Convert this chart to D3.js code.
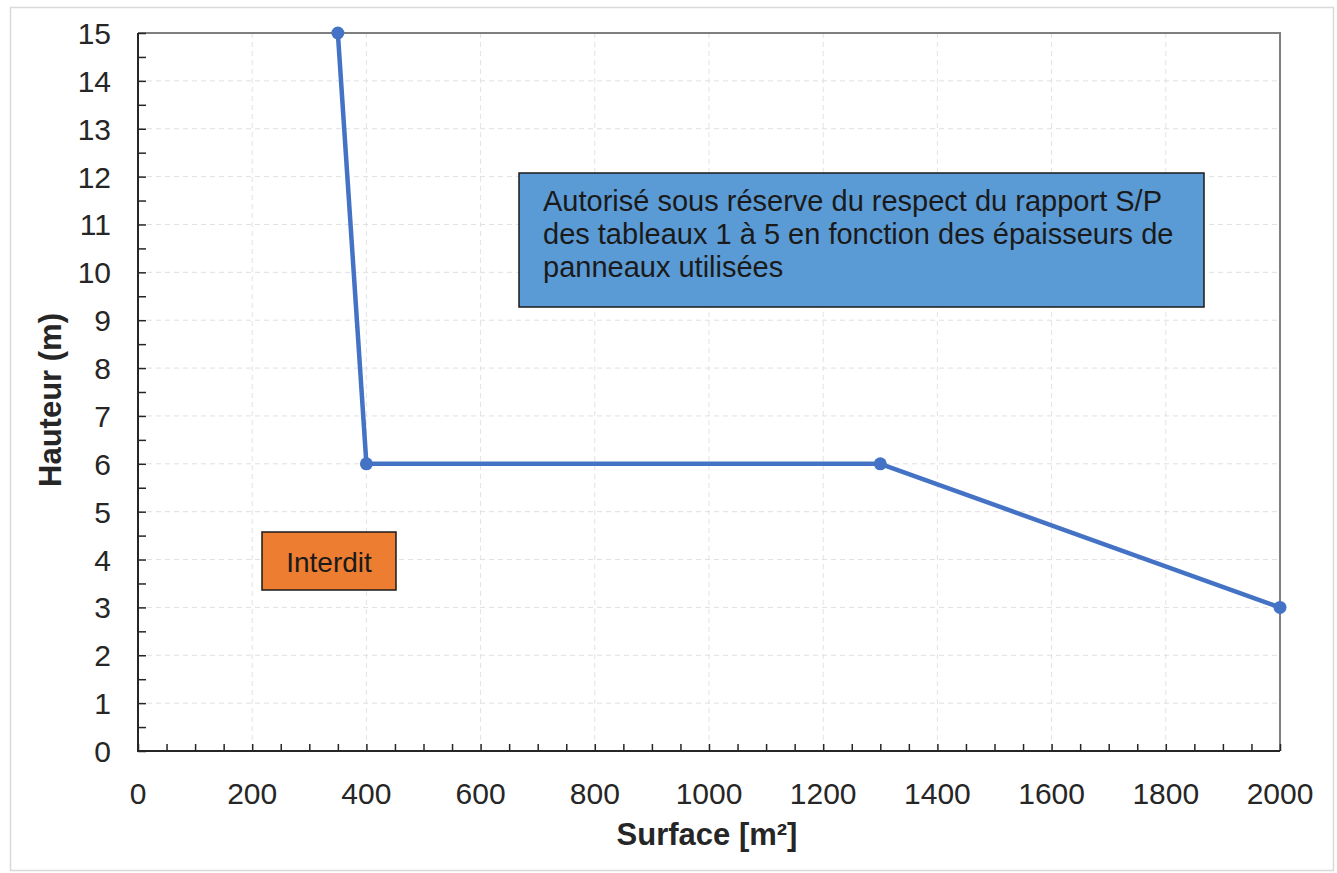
<!DOCTYPE html>
<html><head><meta charset="utf-8">
<script src="https://cdn.jsdelivr.net/npm/d3@7"></script>
<style>body{margin:0;background:#fff;} svg{display:block;font-family:"Liberation Sans",Arial,sans-serif;}</style>
</head><body>
<svg id="c" width="1337" height="873"></svg>
<script>
const surface = [350, 400, 1300, 2000];
const hauteur = [15, 6, 6, 3];
const xTicks = [0,200,400,600,800,1000,1200,1400,1600,1800,2000];
const yTicks = [0,1,2,3,4,5,6,7,8,9,10,11,12,13,14,15];
const xTitle = "Surface [m²]";
const yTitle = "Hauteur (m)";
const boxAllowed = ["Autorisé sous réserve du respect du rapport S/P","des tableaux 1 à 5 en fonction des épaisseurs de","panneaux utilisées"];
const boxForbidden = "Interdit";

const svg = d3.select("#c");
const L=138,R=1280,T=33,B=751;
const x = d3.scaleLinear().domain([0,2000]).range([L,R]);
const y = d3.scaleLinear().domain([0,15]).range([B,T]);

// outer frame
svg.append("rect").attr("x",10.5).attr("y",7.5).attr("width",1323).attr("height",863)
  .attr("fill","#fff").attr("stroke","#d9d9d9").attr("stroke-width",1.5);

// grid
svg.append("g").selectAll("line").data(xTicks.slice(1,-1)).join("line")
  .attr("x1",d=>x(d)).attr("x2",d=>x(d)).attr("y1",T).attr("y2",B)
  .attr("stroke","#e3e3e3").attr("stroke-width",1).attr("stroke-dasharray","5,4");
svg.append("g").selectAll("line").data(yTicks.slice(1,-1)).join("line")
  .attr("x1",L).attr("x2",R).attr("y1",d=>y(d)).attr("y2",d=>y(d))
  .attr("stroke","#e0e0e0").attr("stroke-width",1).attr("stroke-dasharray","5,4");

// top/right border
svg.append("path").attr("d",`M${L},${T}H${R}V${B}`).attr("fill","none").attr("stroke","#7f7f7f").attr("stroke-width",2);

// axes
const xAxis = d3.axisBottom(x).tickValues(d3.range(0,2001,50)).tickSize(-7).tickFormat("");
const gx = svg.append("g").attr("transform",`translate(0,${B})`).call(xAxis);
gx.select(".domain").remove();
gx.selectAll("line").attr("stroke","#262626").attr("stroke-width",1.5);
const yAxis = d3.axisLeft(y).tickValues(d3.range(0,15.01,0.5)).tickSize(-8).tickFormat("");
const gy = svg.append("g").attr("transform",`translate(${L},0)`).call(yAxis);
gy.select(".domain").remove();
gy.selectAll("line").attr("stroke","#262626").attr("stroke-width",1.5);
svg.append("path").attr("d",`M${L},${T}V${B}H${R}`).attr("fill","none").attr("stroke","#262626").attr("stroke-width",2);

// tick labels
svg.append("g").selectAll("text").data(xTicks).join("text")
  .attr("x",d=>x(d)).attr("y",B+53).attr("text-anchor","middle")
  .attr("font-size",30).attr("fill","#262626").text(d=>d);
svg.append("g").selectAll("text").data(yTicks).join("text")
  .attr("x",L-27).attr("y",d=>y(d)+11).attr("text-anchor","end")
  .attr("font-size",30).attr("fill","#262626").text(d=>d);

// axis titles
svg.append("text").attr("x",707).attr("y",845).attr("text-anchor","middle")
  .attr("font-size",31).attr("font-weight","bold").attr("fill","#262626").text(xTitle);
svg.append("text").attr("transform",`translate(61,400) rotate(-90)`).attr("text-anchor","middle")
  .attr("font-size",31).attr("font-weight","bold").attr("fill","#262626").text(yTitle);

// boxes
svg.append("rect").attr("x",519).attr("y",173).attr("width",685).attr("height",134)
  .attr("fill","#5b9bd5").attr("stroke","#1a1a1a").attr("stroke-width",1.5);
svg.append("g").selectAll("text").data(boxAllowed).join("text")
  .attr("x",543).attr("y",(d,i)=>211+i*33).attr("font-size",29).attr("fill","#1a1a1a").text(d=>d);
svg.append("rect").attr("x",262).attr("y",532).attr("width",134).attr("height",58)
  .attr("fill","#ed7d31").attr("stroke","#1a1a1a").attr("stroke-width",1.5);
svg.append("text").attr("x",329).attr("y",572).attr("text-anchor","middle")
  .attr("font-size",28).attr("fill","#1a1a1a").text(boxForbidden);

// line
const pts = surface.map((s,i)=>[s,hauteur[i]]);
svg.append("path").datum(pts).attr("d",d3.line().x(d=>x(d[0])).y(d=>y(d[1])))
  .attr("fill","none").attr("stroke","#4472c4").attr("stroke-width",4.5).attr("stroke-linejoin","round");
svg.append("g").selectAll("circle").data(pts).join("circle")
  .attr("cx",d=>x(d[0])).attr("cy",d=>y(d[1])).attr("r",6.5).attr("fill","#4472c4");
</script>
</body></html>
